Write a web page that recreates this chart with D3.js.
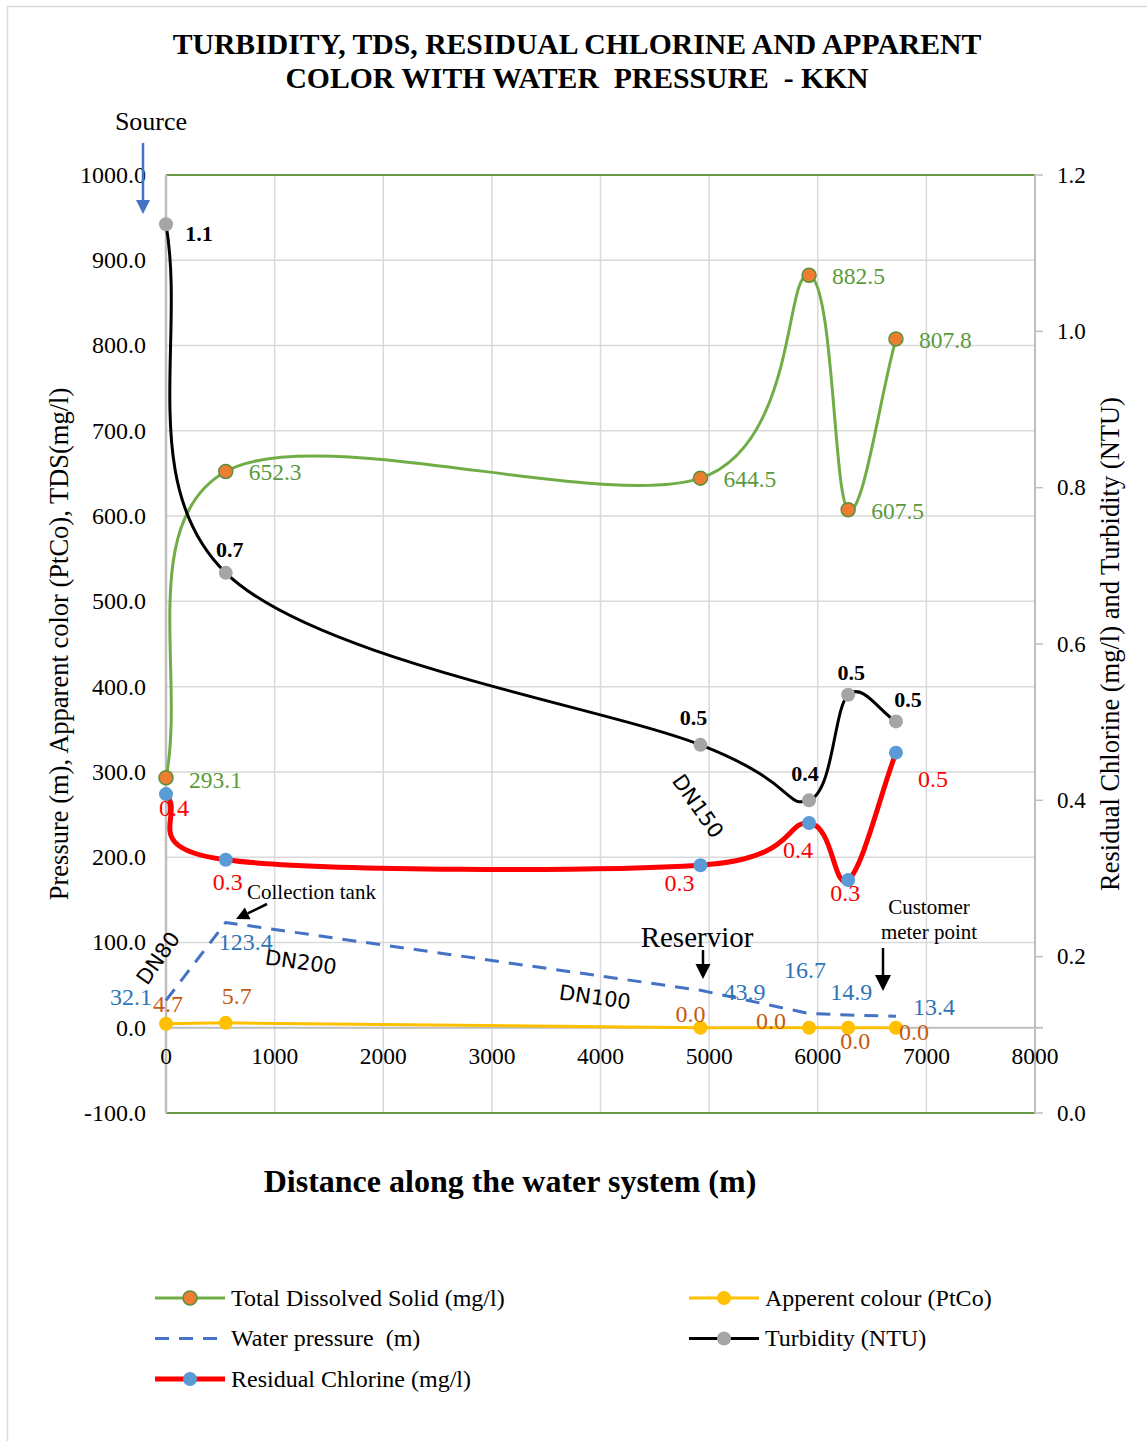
<!DOCTYPE html>
<html>
<head>
<meta charset="utf-8">
<script src="https://cdn.jsdelivr.net/npm/d3@7"></script>
<style>
  html, body { margin: 0; padding: 0; background: #fff; }
  svg { display: block; }
  text { font-family: "Liberation Serif", "Times New Roman", serif; }
</style>
</head>
<body>
<svg id="chart" width="1147" height="1441"></svg>
<script>
// Distance along the network (m) at each sampling point
const distance = [0, 550, 4920, 5920, 6280, 6720];
// Left axis series
const tds = [293.1, 652.3, 644.5, 882.5, 607.5, 807.8];
const pressure = [32.1, 123.4, 43.9, 16.7, 14.9, 13.4];
const colour = [4.7, 5.7, 0.0, 0.0, 0.0, 0.0];
// Right axis series
const turbidity = [1.137, 0.691, 0.471, 0.400, 0.535, 0.501];
const chlorine = [0.408, 0.324, 0.317, 0.371, 0.298, 0.461];
// Tick values
const xTicks = [0, 1000, 2000, 3000, 4000, 5000, 6000, 7000, 8000];
const leftTicks = [-100, 0, 100, 200, 300, 400, 500, 600, 700, 800, 900, 1000];
const rightTicks = [0, 0.2, 0.4, 0.6, 0.8, 1.0, 1.2];

// Label nudges (px) relative to each point
const tdsLabelOff = [[23, 2], [23, 1], [23, 1], [23, 1], [23, 2], [23, 1]];
const turbLabelOff = [[33, 9], [4, -23], [-7, -27], [-4, -27], [3, -22], [12, -22]];
const chlLabelOff = [[8, 14], [2, 22], [-21, 18], [-11, 27], [-3, 13], [37, 26]];
const presLabelOff = [[-35, -3], [20, 20], [44, 2], [-4, -43], [3, -23], [38, -9]];
const colLabelOff = [[2, -20], [11, -27], [-10, -14], [-38, -7], [7, 13], [18, 4]];

const svg = d3.select("#chart");

const x = d3.scaleLinear().domain([0, 8000]).range([166, 1035]);
const yL = d3.scaleLinear().domain([-100, 1000]).range([1113, 175]);
const yR = d3.scaleLinear().domain([0, 1.2]).range([1113, 175]);

// outer frame
svg.append("rect").attr("x", 7.5).attr("y", 6.5).attr("width", 1160).attr("height", 1460)
  .attr("fill", "none").attr("stroke", "#d9d9d9").attr("stroke-width", 1.5);

// title
const title = svg.append("text").attr("text-anchor", "middle")
  .attr("font-size", 29.7).attr("font-weight", "bold").attr("fill", "#000");
title.append("tspan").attr("x", 577).attr("y", 54).text("TURBIDITY, TDS, RESIDUAL CHLORINE AND APPARENT");
title.append("tspan").attr("x", 577).attr("y", 88).attr("xml:space", "preserve").text("COLOR WITH WATER  PRESSURE  - KKN");

// gridlines
const grid = svg.append("g").attr("stroke", "#d9d9d9").attr("stroke-width", 1.5);
grid.selectAll("line.h").data(leftTicks).join("line").attr("class", "h")
  .attr("x1", x(0)).attr("x2", x(8000)).attr("y1", d => yL(d)).attr("y2", d => yL(d));
grid.selectAll("line.v").data(xTicks).join("line").attr("class", "v")
  .attr("x1", d => x(d)).attr("x2", d => x(d)).attr("y1", yL(1000)).attr("y2", yL(-100));

// frame lines
svg.append("line").attr("x1", x(0)).attr("x2", x(8000)).attr("y1", yL(1000)).attr("y2", yL(1000))
  .attr("stroke", "#6b9b4a").attr("stroke-width", 2);
svg.append("line").attr("x1", x(0)).attr("x2", x(8000)).attr("y1", yL(-100)).attr("y2", yL(-100))
  .attr("stroke", "#6b9b4a").attr("stroke-width", 2);
svg.append("line").attr("x1", x(0)).attr("x2", x(0)).attr("y1", yL(1000)).attr("y2", yL(-100))
  .attr("stroke", "#bfbfbf").attr("stroke-width", 2.5);
svg.append("line").attr("x1", x(8000)).attr("x2", x(8000)).attr("y1", yL(1000)).attr("y2", yL(-100))
  .attr("stroke", "#bfbfbf").attr("stroke-width", 2);
svg.append("line").attr("x1", x(0)).attr("x2", x(8000) + 8).attr("y1", yL(0)).attr("y2", yL(0))
  .attr("stroke", "#bfbfbf").attr("stroke-width", 2);
// right axis ticks
svg.append("g").selectAll("line").data(rightTicks).join("line")
  .attr("x1", x(8000)).attr("x2", x(8000) + 8).attr("y1", d => yR(d)).attr("y2", d => yR(d))
  .attr("stroke", "#bfbfbf").attr("stroke-width", 1.5);

// tick labels
svg.append("g").selectAll("text").data(leftTicks).join("text")
  .attr("x", 146).attr("y", d => yL(d)).attr("dy", "0.33em").attr("text-anchor", "end")
  .attr("font-size", 24).text(d => d.toFixed(1));
svg.append("g").selectAll("text").data(rightTicks).join("text")
  .attr("x", 1057).attr("y", d => yR(d)).attr("dy", "0.33em").attr("text-anchor", "start")
  .attr("font-size", 23).text(d => d.toFixed(1));
svg.append("g").selectAll("text").data(xTicks).join("text")
  .attr("x", d => x(d)).attr("y", yL(0) + 36).attr("text-anchor", "middle")
  .attr("font-size", 23.5).text(d => d);

// axis titles
svg.append("text").attr("transform", "translate(68,644) rotate(-90)").attr("text-anchor", "middle")
  .attr("font-size", 26.5).text("Pressure (m), Apparent color (PtCo), TDS(mg/l)");
svg.append("text").attr("transform", "translate(1119,644) rotate(-90)").attr("text-anchor", "middle")
  .attr("font-size", 26.5).text("Residual Chlorine (mg/l) and Turbidity (NTU)");
svg.append("text").attr("x", 510).attr("y", 1192).attr("text-anchor", "middle")
  .attr("font-size", 32).attr("font-weight", "bold").text("Distance along the water system (m)");

// smoothed path: Catmull-Rom style Bezier with reflected end points
function smoothPath(pts) {
  const n = pts.length;
  const p = i => {
    if (i < 0) return [2 * pts[0][0] - pts[1][0], 2 * pts[0][1] - pts[1][1]];
    if (i >= n) return [2 * pts[n - 1][0] - pts[n - 2][0], 2 * pts[n - 1][1] - pts[n - 2][1]];
    return pts[i];
  };
  const path = d3.path();
  path.moveTo(pts[0][0], pts[0][1]);
  for (let i = 0; i < n - 1; i++) {
    const p0 = p(i - 1), p1 = p(i), p2 = p(i + 1), p3 = p(i + 2);
    path.bezierCurveTo(
      p1[0] + (p2[0] - p0[0]) / 6, p1[1] + (p2[1] - p0[1]) / 6,
      p2[0] - (p3[0] - p1[0]) / 6, p2[1] - (p3[1] - p1[1]) / 6,
      p2[0], p2[1]);
  }
  return path.toString();
}
const straightPath = pts => d3.line()(pts);

function series(values, yScale, opts) {
  const pts = values.map((v, i) => [x(distance[i]), yScale(v)]);
  const g = svg.append("g");
  g.append("path").attr("d", (opts.smooth ? smoothPath : straightPath)(pts)).attr("fill", "none")
    .attr("stroke", opts.stroke).attr("stroke-width", opts.width)
    .attr("stroke-dasharray", opts.dash || null).attr("stroke-linejoin", "round");
  if (opts.marker) {
    g.selectAll("circle").data(pts).join("circle")
      .attr("cx", d => d[0]).attr("cy", d => d[1]).attr("r", 7)
      .attr("fill", opts.marker).attr("stroke", opts.markerStroke || "none").attr("stroke-width", 1.5);
  }
  return { g, pts };
}
function labels(s, values, offs, opts) {
  s.g.selectAll("text").data(values).join("text")
    .attr("x", (d, i) => s.pts[i][0] + offs[i][0])
    .attr("y", (d, i) => s.pts[i][1] + offs[i][1])
    .attr("dy", "0.33em").attr("text-anchor", opts.anchor || "middle")
    .attr("font-size", opts.size).attr("font-weight", opts.weight || "normal")
    .attr("fill", opts.fill).text(d => d.toFixed(1));
}

const sCol = series(colour, yL, { stroke: "#ffc000", width: 3, marker: "#ffc000" });
const sPres = series(pressure, yL, { stroke: "#4472c4", width: 3, dash: "14,10" });
const sTds = series(tds, yL, { stroke: "#70ad47", width: 3, smooth: true, marker: "#ed7d31", markerStroke: "#5b8f3a" });
const sTurb = series(turbidity, yR, { stroke: "#000", width: 3, smooth: true, marker: "#a5a5a5" });
const sChl = series(chlorine, yR, { stroke: "#ff0000", width: 5, smooth: true, marker: "#5b9bd5" });

labels(sTds, tds, tdsLabelOff, { size: 23.5, fill: "#5b9a3c", anchor: "start" });
labels(sTurb, turbidity, turbLabelOff, { size: 22, fill: "#000", weight: "bold" });
labels(sChl, chlorine, chlLabelOff, { size: 24, fill: "#ff0000" });
labels(sPres, pressure, presLabelOff, { size: 24, fill: "#2e75b6" });
labels(sCol, colour, colLabelOff, { size: 24, fill: "#c55a11" });

// annotations
function arrow(x1, y1, x2, y2, color, width, head) {
  const ang = Math.atan2(y2 - y1, x2 - x1);
  const bx = x2 - head * Math.cos(ang), by = y2 - head * Math.sin(ang);
  svg.append("line").attr("x1", x1).attr("y1", y1).attr("x2", bx).attr("y2", by)
    .attr("stroke", color).attr("stroke-width", width);
  const w = head * 0.5;
  const px = -Math.sin(ang) * w, py = Math.cos(ang) * w;
  svg.append("path").attr("d", `M${x2},${y2}L${bx + px},${by + py}L${bx - px},${by - py}Z`).attr("fill", color);
}
svg.append("text").attr("x", 151).attr("y", 130).attr("text-anchor", "middle").attr("font-size", 26).text("Source");
arrow(143, 143, 143, 214, "#4472c4", 2.5, 14);

svg.append("text").attr("x", 247).attr("y", 899).attr("font-size", 21).text("Collection tank");
arrow(267, 904, 236, 919, "#000", 2.5, 13);

svg.append("text").attr("x", 697).attr("y", 947).attr("text-anchor", "middle").attr("font-size", 29).text("Reservior");
arrow(703, 950, 703, 979, "#000", 2.5, 15);

svg.append("text").attr("x", 929).attr("y", 914).attr("text-anchor", "middle").attr("font-size", 21).text("Customer");
svg.append("text").attr("x", 929).attr("y", 939).attr("text-anchor", "middle").attr("font-size", 21).text("meter point");
arrow(883, 948, 883, 991, "#000", 2.5, 16);

function pipe(label, cx, cy, rot) {
  svg.append("text").attr("transform", `translate(${cx},${cy}) rotate(${rot})`)
    .attr("text-anchor", "middle").attr("dy", "0.35em")
    .style("font-family", "'DejaVu Sans', 'Noto Sans', sans-serif").attr("font-size", 21).text(label);
}
pipe("DN80", 158, 958, -55);
pipe("DN200", 301, 962, 8);
pipe("DN100", 595, 997, 8);
pipe("DN150", 698, 806, 55);

// legend
const legendItems = [
  { name: "Total Dissolved Solid (mg/l)", stroke: "#70ad47", w: 3, marker: "#ed7d31", ms: "#5b8f3a", col: 0, row: 0 },
  { name: "Apperent colour (PtCo)", stroke: "#ffc000", w: 3, marker: "#ffc000", col: 1, row: 0 },
  { name: "Water pressure  (m)", stroke: "#4472c4", w: 3, dash: "14,10", col: 0, row: 1 },
  { name: "Turbidity (NTU)", stroke: "#000", w: 3, marker: "#a5a5a5", col: 1, row: 1 },
  { name: "Residual Chlorine (mg/l)", stroke: "#ff0000", w: 5, marker: "#5b9bd5", col: 0, row: 2 }
];
const lg = svg.append("g");
legendItems.forEach(it => {
  const lx = it.col === 0 ? 155 : 689;
  const ly = 1298 + it.row * 40.5;
  lg.append("line").attr("x1", lx).attr("x2", lx + 70).attr("y1", ly).attr("y2", ly)
    .attr("stroke", it.stroke).attr("stroke-width", it.w).attr("stroke-dasharray", it.dash || null);
  if (it.marker) {
    lg.append("circle").attr("cx", lx + 35).attr("cy", ly).attr("r", 7)
      .attr("fill", it.marker).attr("stroke", it.ms || "none").attr("stroke-width", 1.5);
  }
  lg.append("text").attr("x", lx + 76).attr("y", ly).attr("dy", "0.33em")
    .attr("font-size", 24).attr("xml:space", "preserve").text(it.name);
});
</script>
</body>
</html>
